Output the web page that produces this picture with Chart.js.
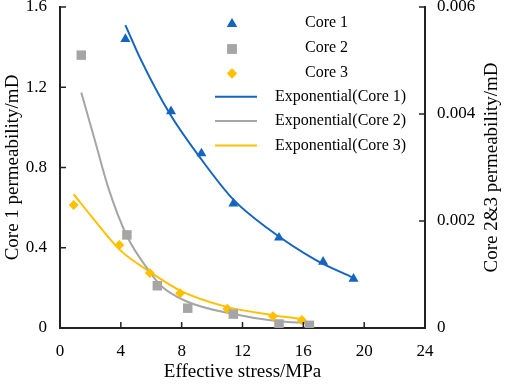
<!DOCTYPE html>
<html>
<head>
    <meta charset="utf-8"/>
    <title>Permeability vs effective stress</title>
    <script src="https://cdn.jsdelivr.net/npm/chart.js"></script>
    <style>
        body {
            margin: 0;
            background-color: #ffffff;
        }

        #wrap {
            width: 505px;
            height: 387px;
        }
    </style>
</head>
<body>
    <div id="wrap">
        <canvas id="permChart" width="505" height="387"></canvas>
    </div>

    <script>
        // measured points
        const core1X = [4.3, 7.3, 9.3, 11.4, 14.4, 17.3, 19.3];
        const core1Y = [1.44, 1.08, 0.87, 0.62, 0.45, 0.33, 0.245];
        const core2X = [1.4, 4.4, 6.4, 8.4, 11.4, 14.4, 16.4];
        const core2Y = [0.0051, 0.00174, 0.00079, 0.00037, 0.00026, 0.000075, 0.00005];
        const core3X = [0.9, 3.9, 5.9, 7.9, 11.0, 14.0, 15.9];
        const core3Y = [0.0023, 0.00155, 0.00103, 0.00065, 0.00036, 0.00022, 0.00015];

        // trend lines
        const fit1X = [4.3, 5.3, 7.2, 9.3, 11.4, 13.6, 16.8, 19.3];
        const fit1Y = [1.51, 1.34, 1.07, 0.84, 0.64, 0.5, 0.34, 0.25];
        const fit2X = [1.4, 2.3, 3.2, 4.4, 5.9, 6.6, 8.3, 11.4, 14.2, 16.4];
        const fit2Y = [0.0044, 0.0035, 0.0026, 0.00172, 0.00105, 0.0008, 0.0005, 0.00026, 0.00013, 0.00009];
        const fit3X = [0.9, 2.2, 3.9, 5.9, 7.9, 10.9, 14.0, 15.9];
        const fit3Y = [0.0025, 0.00204, 0.00147, 0.00105, 0.0007, 0.0004, 0.00024, 0.00017];

        // axes
        const xTicks = [0, 4, 8, 12, 16, 20, 24];
        const yLeftTicks = [0, 0.4, 0.8, 1.2, 1.6];
        const yRightTicks = [0, 0.002, 0.004, 0.006];

        const labels = ['Core 1', 'Core 2', 'Core 3', 'Exponential(Core 1)', 'Exponential(Core 2)', 'Exponential(Core 3)'];

        const BLUE = '#1565c0';
        const GRAY = '#a5a5a5';
        const GOLD = '#ffc000';
        const SERIF = '"Liberation Serif", "Times New Roman", serif';

        function pts(xs, ys) {
            return xs.map((x, i) => ({ x: x, y: ys[i] }));
        }

        function fixTicks(list) {
            return function (scale) {
                scale.ticks = list.map(v => ({ value: v }));
            };
        }

        // fixed box size, no extra label padding
        function fixSize(w, h) {
            return function (scale) {
                if (w) scale.width = w;
                if (h) scale.height = h;
                scale.paddingTop = 0;
                scale.paddingBottom = 0;
                scale.paddingLeft = 0;
                scale.paddingRight = 0;
            };
        }

        // small ticks pointing into the plot
        const insideTicks = {
            id: 'insideTicks',
            afterDraw(chart) {
                const ctx = chart.ctx;
                const a = chart.chartArea;
                const len = 6;
                ctx.save();
                ctx.strokeStyle = '#222';
                ctx.lineWidth = 1.5;
                ctx.beginPath();
                chart.scales.x.ticks.forEach(t => {
                    const px = chart.scales.x.getPixelForValue(t.value);
                    ctx.moveTo(px, a.bottom);
                    ctx.lineTo(px, a.bottom - len);
                });
                chart.scales.y.ticks.forEach(t => {
                    const py = chart.scales.y.getPixelForValue(t.value);
                    ctx.moveTo(a.left, py);
                    ctx.lineTo(a.left + len, py);
                });
                chart.scales.y2.ticks.forEach(t => {
                    const py = chart.scales.y2.getPixelForValue(t.value);
                    ctx.moveTo(a.right, py);
                    ctx.lineTo(a.right - len, py);
                });
                ctx.stroke();

                // right axis title reads bottom to top
                ctx.fillStyle = '#000';
                ctx.font = '19px ' + SERIF;
                ctx.textAlign = 'center';
                ctx.textBaseline = 'middle';
                ctx.translate(492, (a.top + a.bottom) / 2);
                ctx.rotate(-Math.PI / 2);
                ctx.fillText('Core 2&3 permeability/mD', 0, 0);
                ctx.restore();
            }
        };

        // legend drawn in the upper right of the plot
        const sideLegend = {
            id: 'sideLegend',
            afterDraw(chart) {
                const ctx = chart.ctx;
                const rowY = [23, 48, 72.5, 96.7, 121, 145.5];
                ctx.save();
                chart.data.datasets.forEach((ds, i) => {
                    const y = rowY[i];
                    if (ds.showLine) {
                        ctx.strokeStyle = ds.borderColor;
                        ctx.lineWidth = 2;
                        ctx.beginPath();
                        ctx.moveTo(215, y);
                        ctx.lineTo(257, y);
                        ctx.stroke();
                    } else {
                        ctx.fillStyle = ds.backgroundColor;
                        ctx.strokeStyle = ds.borderColor;
                        Chart.helpers.drawPoint(ctx, {
                            pointStyle: ds.pointStyle,
                            radius: ds.pointRadius,
                            borderWidth: 0,
                            rotation: 0
                        }, 232, y + 1);
                        ctx.fill();
                    }
                    ctx.fillStyle = '#000';
                    ctx.font = '16px ' + SERIF;
                    ctx.textAlign = 'left';
                    ctx.textBaseline = 'middle';
                    ctx.fillText(ds.label, ds.showLine ? 275 : 305, y);
                });
                ctx.restore();
            }
        };

        const ctx = document.getElementById('permChart').getContext('2d');
        new Chart(ctx, {
            type: 'scatter',
            data: {
                datasets: [
                    {
                        label: labels[0], data: pts(core1X, core1Y), yAxisID: 'y',
                        pointStyle: 'triangle', pointRadius: 5.8, pointBorderWidth: 0,
                        backgroundColor: BLUE, borderColor: BLUE, showLine: false
                    },
                    {
                        label: labels[1], data: pts(core2X, core2Y), yAxisID: 'y2',
                        pointStyle: 'rect', pointRadius: 6.7, pointBorderWidth: 0,
                        backgroundColor: GRAY, borderColor: GRAY, showLine: false
                    },
                    {
                        label: labels[2], data: pts(core3X, core3Y), yAxisID: 'y2',
                        pointStyle: 'rectRot', pointRadius: 5, pointBorderWidth: 0,
                        backgroundColor: GOLD, borderColor: GOLD, showLine: false
                    },
                    {
                        label: labels[3], data: pts(fit1X, fit1Y), yAxisID: 'y',
                        showLine: true, pointRadius: 0, borderWidth: 2,
                        borderColor: BLUE, cubicInterpolationMode: 'monotone'
                    },
                    {
                        label: labels[4], data: pts(fit2X, fit2Y), yAxisID: 'y2',
                        showLine: true, pointRadius: 0, borderWidth: 2,
                        borderColor: GRAY, cubicInterpolationMode: 'monotone'
                    },
                    {
                        label: labels[5], data: pts(fit3X, fit3Y), yAxisID: 'y2',
                        showLine: true, pointRadius: 0, borderWidth: 2,
                        borderColor: GOLD, cubicInterpolationMode: 'monotone'
                    }
                ]
            },
            options: {
                responsive: false,
                animation: false,
                layout: { padding: { top: 7, left: 0, right: 0, bottom: 0 } },
                plugins: {
                    legend: { display: false },
                    tooltip: { enabled: false }
                },
                scales: {
                    x: {
                        type: 'linear', min: 0, max: 24,
                        afterBuildTicks: fixTicks(xTicks),
                        afterFit: fixSize(0, 59),
                        grid: { drawOnChartArea: false, drawTicks: false },
                        border: { color: '#222', width: 2 },
                        ticks: { color: '#000', padding: 13, maxRotation: 0, font: { family: SERIF, size: 17 } },
                        title: {
                            display: true, text: 'Effective stress/MPa', color: '#000',
                            padding: { top: 0, bottom: 4 },
                            font: { family: SERIF, size: 19 }
                        }
                    },
                    y: {
                        type: 'linear', position: 'left', min: 0, max: 1.6,
                        afterBuildTicks: fixTicks(yLeftTicks),
                        afterFit: fixSize(60, 0),
                        grid: { drawOnChartArea: false, drawTicks: false },
                        border: { color: '#222', width: 2 },
                        ticks: { color: '#000', padding: 13, font: { family: SERIF, size: 17 } },
                        title: {
                            display: true, text: 'Core 1 permeability/mD', color: '#000',
                            padding: { top: 2, bottom: 0 },
                            font: { family: SERIF, size: 19 }
                        }
                    },
                    y2: {
                        type: 'linear', position: 'right', min: 0, max: 0.006,
                        afterBuildTicks: fixTicks(yRightTicks),
                        afterFit: fixSize(80, 0),
                        grid: { drawOnChartArea: false, drawTicks: false },
                        border: { color: '#222', width: 2 },
                        ticks: { color: '#000', padding: 12, font: { family: SERIF, size: 17 } }
                    }
                }
            },
            plugins: [insideTicks, sideLegend]
        });
    </script>
</body>
</html>
